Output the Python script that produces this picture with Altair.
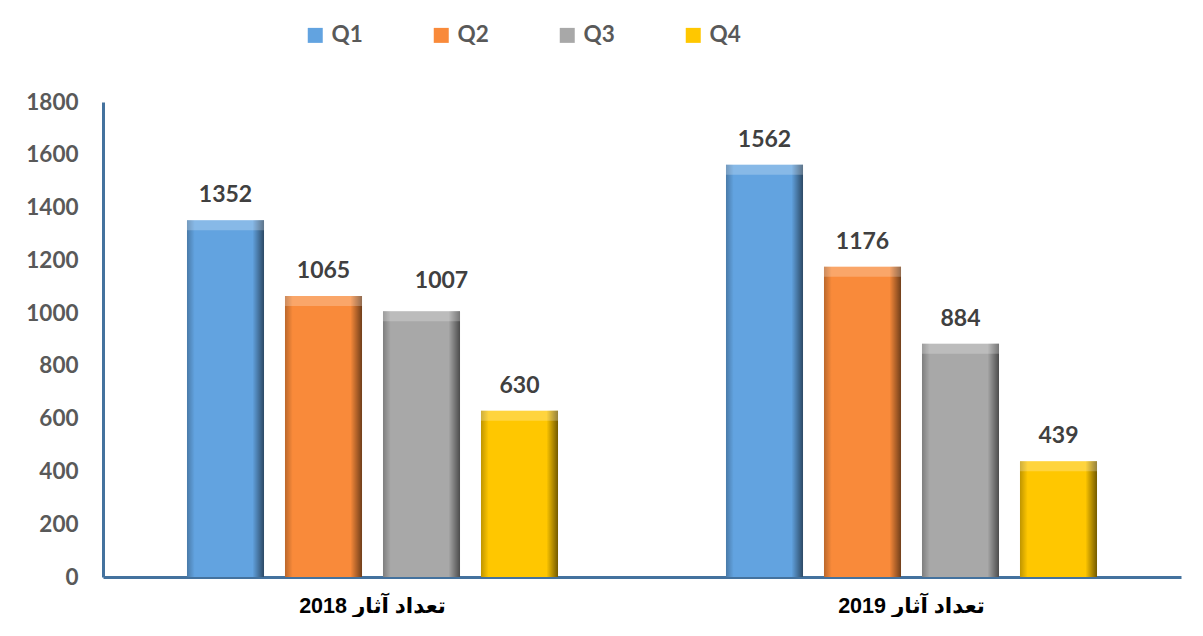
import altair as alt
import pandas as pd

years = ["تعداد آثار 2018", "تعداد آثار 2019"]
quarters = ["Q1", "Q2", "Q3", "Q4"]
values_2018 = [1352, 1065, 1007, 630]
values_2019 = [1562, 1176, 884, 439]
colors = ["#62A3E0", "#F98A3A", "#A8A8A8", "#FFC700"]
y_ticks = [0, 200, 400, 600, 800, 1000, 1200, 1400, 1600, 1800]

rows = []
for yr, vals in zip(years, [values_2018, values_2019]):
    for q, v in zip(quarters, vals):
        rows.append({"year": yr, "quarter": q, "value": v})
df = pd.DataFrame(rows)

x_enc = alt.X(
    "year:N", sort=years, title=None,
    scale=alt.Scale(paddingInner=0, paddingOuter=0),
    axis=alt.Axis(labelAngle=0, labelFont="Liberation Sans, DejaVu Sans", labelFontSize=21.5,
                  labelFontWeight="bold", labelColor="#000000", labelPadding=18,
                  ticks=False, tickSize=0, domainColor="#44729E", domainWidth=3),
)
xo_enc = alt.XOffset("quarter:N", sort=quarters,
                     scale=alt.Scale(paddingInner=0.214, paddingOuter=0.857))
y_enc = alt.Y(
    "value:Q", title=None,
    scale=alt.Scale(domain=[0, 1800], nice=False),
    axis=alt.Axis(values=y_ticks, format="d", grid=False, ticks=False, tickSize=0,
                  labelPadding=25, labelFont="Lato", labelFontSize=22.5,
                  labelFontWeight="bold", labelColor="#595959",
                  domainColor="#44729E", domainWidth=3),
)

base = alt.Chart(df)

bars = base.mark_bar().encode(
    x=x_enc, xOffset=xo_enc, y=y_enc,
    color=alt.Color("quarter:N", sort=quarters,
                    scale=alt.Scale(domain=quarters, range=colors),
                    legend=alt.Legend(title=None, orient="none", legendX=201, legendY=-78,
                                      direction="horizontal", columns=4, columnPadding=67,
                                      gridAlign="all",
                                      symbolType="square", symbolSize=225,
                                      symbolStrokeWidth=0, labelFont="Lato",
                                      labelFontSize=22.5, labelFontWeight="bold",
                                      labelColor="#595959", labelOffset=5)),
)

shade = base.mark_bar(
    fill=alt.Gradient(
        gradient="linear", x1=0, x2=1, y1=0, y2=0,
        stops=[
            alt.GradientStop(offset=0, color="rgba(0,0,0,0.25)"),
            alt.GradientStop(offset=0.1, color="rgba(0,0,0,0)"),
            alt.GradientStop(offset=0.85, color="rgba(0,0,0,0)"),
            alt.GradientStop(offset=1, color="rgba(0,0,0,0.55)"),
        ],
    )
).encode(x=x_enc, xOffset=xo_enc, y=y_enc)

top = base.mark_bar(fill="white", opacity=0.24, y2Offset=10).encode(
    x=x_enc, xOffset=xo_enc, y=y_enc, y2="value:Q"
)

label_style = dict(baseline="alphabetic", font="Lato", fontSize=23, fontWeight="bold",
                   color="#404040")

labels = base.mark_text(dy=-18, **label_style).encode(
    x=x_enc, xOffset=xo_enc, y=y_enc, text="value:Q"
).transform_filter(alt.datum.value != 1007)

moved_label = base.mark_text(dy=-23, dx=20, **label_style).encode(
    x=x_enc, xOffset=xo_enc, y=y_enc, text="value:Q"
).transform_filter(alt.datum.value == 1007)

chart = (
    alt.layer(bars, shade, top, labels, moved_label)
    .properties(width=1078, height=475, autosize=alt.AutoSizeParams(type="none"),
                padding={"left": 95, "top": 94, "right": 14, "bottom": 40})
    .configure_view(stroke=None)
)

chart.save("out.html", embed_options={"renderer": "svg", "actions": False})
